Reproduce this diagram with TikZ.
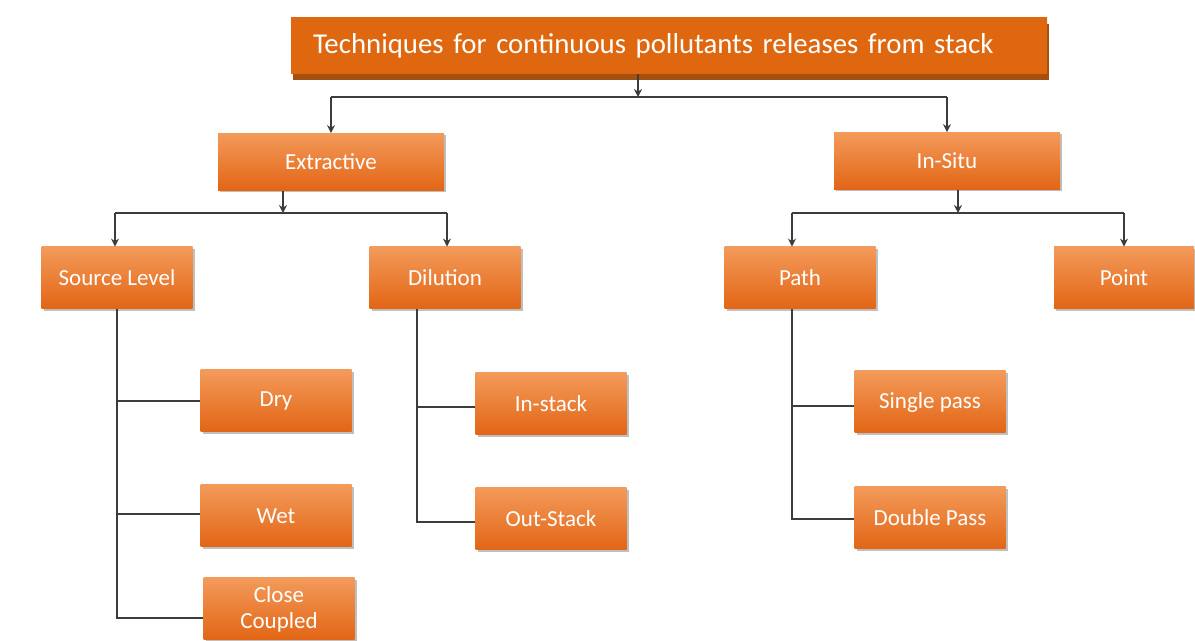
\documentclass[tikz,border=0pt]{standalone}
\usepackage{fontspec}
\setmainfont{Carlito}
\usetikzlibrary{arrows.meta,shadows}

\definecolor{orlight}{HTML}{F39A5A}
\definecolor{ormid}{HTML}{ED7A2C}
\definecolor{ordark}{HTML}{E26515}
\definecolor{titletop}{HTML}{DE670F}
\definecolor{titlemid}{HTML}{F29548}
\definecolor{titleshade}{HTML}{A4500E}
\definecolor{linkgray}{HTML}{3C3C3C}

\begin{document}
\begin{tikzpicture}[x=0.5pt,y=-0.5pt,
    box/.style={top color=orlight,middle color=ormid,bottom color=ordark,
      minimum width=75.5pt,minimum height=31pt,inner sep=1pt,
      text=white,align=center,font=\fontsize{11.5}{12.5}\selectfont,
      drop shadow={shadow xshift=1pt,shadow yshift=-1pt,opacity=.25,fill=black}},
    bigbox/.style={box,minimum width=113pt,minimum height=28.5pt},
    titlebox/.style={top color=titletop,middle color=titlemid,bottom color=titletop,
      minimum width=378pt,minimum height=28pt,text width=356pt,inner xsep=11pt,
      align=left,text=white,font=\fontsize{14.4}{16}\selectfont,
      drop shadow={shadow xshift=1pt,shadow yshift=-3pt,opacity=1,fill=titleshade}},
    link/.style={draw=linkgray,line width=1pt},
    arr/.style={link,-{Stealth[length=4pt,width=4pt]}}]
  \useasboundingbox (0,0) rectangle (1195,641);

  % top level
  \node[titlebox] (title) at (669,46) {Techniques for continuous pollutants releases from stack};

  % second level
  \node[bigbox] (ext) at (331,162) {Extractive};
  \node[bigbox] (insitu) at (947,161) {In-Situ};

  % third level
  \node[box] (src) at (117,278) {Source Level};
  \node[box] (dil) at (445,278) {Dilution};
  \node[box] (path) at (800,278) {Path};
  \node[box,minimum width=70pt] (point) at (1124,278) {Point};

  % leaves
  \node[box] (dry) at (276,401) {Dry};
  \node[box] (wet) at (276,516) {Wet};
  \node[box,inner sep=0pt,font=\fontsize{11.5}{13}\selectfont] (close) at (279,609) {Close\\Coupled};
  \node[box] (instack) at (551,404) {In-stack};
  \node[box] (outstack) at (551,519) {Out-Stack};
  \node[box] (single) at (930,402) {Single pass};
  \node[box] (double) at (930,518) {Double Pass};

  % junctions
  \coordinate (j0) at (638,97);
  \coordinate (j1) at (283,213);
  \coordinate (j2) at (958,213);

  \draw[arr] (title.south -| j0) -- (j0);
  \draw[link] (ext.north |- j0) -- (insitu.north |- j0);
  \draw[arr] (ext.north |- j0) -- (ext.north);
  \draw[arr] (insitu.north |- j0) -- (insitu.north);

  \draw[arr] (ext.south -| j1) -- (j1);
  \draw[link] ([xshift=-1pt]src.north |- j1) -- ([xshift=1pt]dil.north |- j1);
  \draw[arr] ([xshift=-1pt]src.north |- j1) -- ([xshift=-1pt]src.north);
  \draw[arr] ([xshift=1pt]dil.north |- j1) -- ([xshift=1pt]dil.north);

  \draw[arr] (insitu.south -| j2) -- (j2);
  \draw[link] ([xshift=-4pt]path.north |- j2) -- (point.north |- j2);
  \draw[arr] ([xshift=-4pt]path.north |- j2) -- ([xshift=-4pt]path.north);
  \draw[arr] (point.north |- j2) -- (point.north);

  % branches
  \draw[link] (src.south) |- (dry.west);
  \draw[link] (src.south) |- ([yshift=1pt]wet.west);
  \draw[link] (src.south) |- ([yshift=-4.5pt]close.west);
  \draw[link] ([xshift=-14pt]dil.south) |- ([yshift=-1.5pt]instack.west);
  \draw[link] ([xshift=-14pt]dil.south) |- ([yshift=-1.5pt]outstack.west);
  \draw[link] ([xshift=-4pt]path.south) |- ([yshift=-2pt]single.west);
  \draw[link] ([xshift=-4pt]path.south) |- ([yshift=-0.5pt]double.west);
\end{tikzpicture}
\end{document}
